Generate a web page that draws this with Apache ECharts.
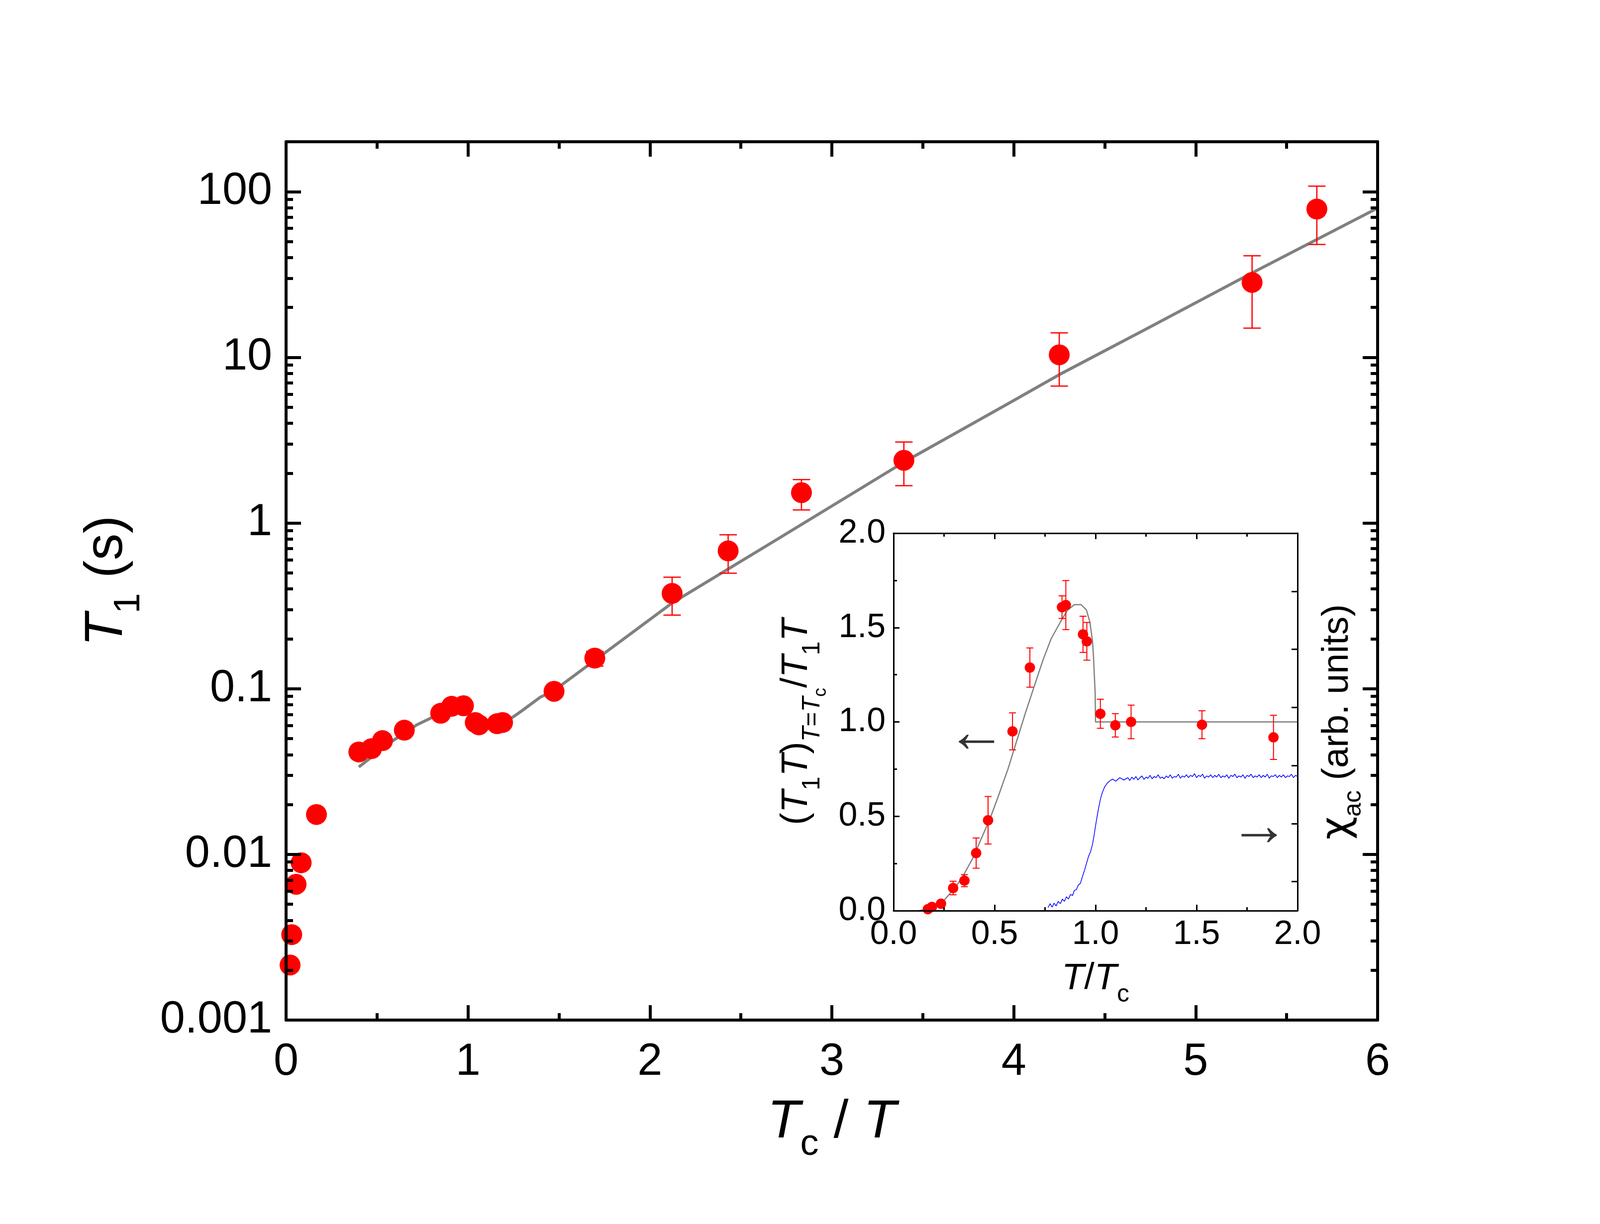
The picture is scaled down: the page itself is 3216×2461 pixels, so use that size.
<!DOCTYPE html>
<html>
<head>
<meta charset="utf-8">
<script src="https://cdn.jsdelivr.net/npm/echarts@6/dist/echarts.min.js"></script>
<style>
  html, body { margin: 0; padding: 0; background: #fff; }
  #chart { width: 3216px; height: 2461px; }
</style>
</head>
<body>
<div id="chart"></div>
<script>
// main panel: T1 vs Tc/T
const t1X = [0.022, 0.031, 0.055, 0.083, 0.167, 0.40, 0.47, 0.53, 0.65, 0.85, 0.91, 0.975, 1.04, 1.06, 1.16, 1.19, 1.473, 1.697, 2.122, 2.430, 2.833, 3.396, 4.250, 5.31, 5.666];
const t1Y = [0.00215, 0.00328, 0.0066, 0.0089, 0.0174, 0.0415, 0.0435, 0.0486, 0.0562, 0.0711, 0.0783, 0.0789, 0.0625, 0.0605, 0.0615, 0.0625, 0.0964, 0.153, 0.376, 0.679, 1.525, 2.39, 10.35, 28.3, 78.5];

const errX = [1.697, 2.122, 2.430, 2.833, 3.396, 4.250, 5.31, 5.666];
const errLo = [0.137, 0.278, 0.498, 1.20, 1.68, 6.71, 15.0, 48.0];
const errHi = [0.168, 0.471, 0.849, 1.83, 3.08, 14.06, 41.0, 108];

const fitX = [0.40, 0.47, 0.58, 0.716, 0.872, 0.995, 1.0, 1.009, 1.025, 1.067, 1.124, 1.19, 1.292, 1.397, 1.473, 1.854, 2.122, 2.691, 3.396, 3.947, 4.250, 4.717, 5.30, 6.0];
const fitY = [0.0337, 0.0387, 0.048, 0.0603, 0.073, 0.085, 0.0773, 0.066, 0.059, 0.0566, 0.0578, 0.061, 0.073, 0.0888, 0.0975, 0.199, 0.329, 0.787, 2.33, 5.09, 7.86, 14.6, 31.9, 79.6];

const logMajor = [0.001, 0.01, 0.1, 1, 10, 100];

// inset: normalized (T1 T) vs T/Tc
const inX = [0.17, 0.19, 0.235, 0.295, 0.351, 0.409, 0.468, 0.589, 0.675, 0.834, 0.853, 0.938, 0.957, 1.024, 1.098, 1.176, 1.527, 1.881];
const inY = [0.008, 0.02, 0.037, 0.120, 0.159, 0.305, 0.479, 0.950, 1.288, 1.608, 1.619, 1.464, 1.427, 1.043, 0.982, 1.0, 0.985, 0.918];
const inErr = [0.005, 0.01, 0.015, 0.036, 0.032, 0.08, 0.126, 0.098, 0.104, 0.06, 0.13, 0.096, 0.10, 0.077, 0.062, 0.089, 0.074, 0.117];

const inFitX = [0.126, 0.187, 0.25, 0.307, 0.35, 0.394, 0.48, 0.52, 0.567, 0.61, 0.653, 0.70, 0.739, 0.78, 0.826, 0.86, 0.895, 0.929, 0.955, 0.972, 0.985, 0.990, 0.994, 0.998, 1.0, 2.0];
const inFitY = [0, 0.013, 0.055, 0.124, 0.195, 0.281, 0.494, 0.61, 0.752, 0.90, 1.048, 1.20, 1.325, 1.44, 1.529, 1.59, 1.621, 1.621, 1.593, 1.529, 1.43, 1.344, 1.25, 1.159, 1.0, 1.0];

// chi_ac (arb. units, right axis)
const chiX = [0.765, 0.775, 0.785, 0.795, 0.805, 0.815, 0.826, 0.836, 0.846, 0.856, 0.866, 0.876, 0.886, 0.895, 0.905, 0.915, 0.925, 0.935, 0.946, 0.955, 0.965, 0.975, 0.985, 0.993, 1.000, 1.008, 1.016, 1.025, 1.033, 1.045, 1.059, 1.072, 1.085, 1.10, 1.12, 1.14,
  1.16, 1.17, 1.18, 1.19, 1.20, 1.21, 1.22, 1.23, 1.24, 1.25, 1.26, 1.27, 1.28, 1.29, 1.30, 1.31, 1.32, 1.33, 1.34, 1.35, 1.36, 1.37, 1.38, 1.39,
  1.40, 1.41, 1.42, 1.43, 1.44, 1.45, 1.46, 1.47, 1.48, 1.49, 1.50, 1.51, 1.52, 1.53, 1.54, 1.55, 1.56, 1.57, 1.58, 1.59,
  1.60, 1.61, 1.62, 1.63, 1.64, 1.65, 1.66, 1.67, 1.68, 1.69, 1.70, 1.71, 1.72, 1.73, 1.74, 1.75, 1.76, 1.77, 1.78, 1.79,
  1.80, 1.81, 1.82, 1.83, 1.84, 1.85, 1.86, 1.87, 1.88, 1.89, 1.90, 1.91, 1.92, 1.93, 1.94, 1.95, 1.96, 1.97, 1.98, 1.99, 2.00];
const chiY = [-0.445, -0.38, -0.44, -0.37, -0.42, -0.34, -0.38, -0.30, -0.34, -0.26, -0.30, -0.22, -0.24, -0.15, -0.14, -0.06, -0.03, 0.085, 0.20, 0.31, 0.43, 0.51, 0.64, 0.80, 0.96, 1.125, 1.28, 1.43, 1.525, 1.63, 1.70, 1.74, 1.765, 1.73, 1.79, 1.75,
  1.79, 1.74, 1.80, 1.76, 1.81, 1.75, 1.79, 1.82, 1.76, 1.80, 1.78, 1.83, 1.77, 1.81, 1.79, 1.84, 1.78, 1.80, 1.77, 1.82, 1.79, 1.84, 1.78, 1.81,
  1.80, 1.85, 1.78, 1.82, 1.80, 1.84, 1.79, 1.83, 1.81, 1.86, 1.79, 1.83, 1.81, 1.85, 1.78, 1.82, 1.80, 1.84, 1.79, 1.83,
  1.80, 1.85, 1.79, 1.82, 1.80, 1.84, 1.78, 1.83, 1.81, 1.85, 1.79, 1.82, 1.80, 1.84, 1.78, 1.83, 1.81, 1.85, 1.79, 1.82,
  1.80, 1.84, 1.79, 1.83, 1.80, 1.85, 1.78, 1.82, 1.81, 1.84, 1.79, 1.83, 1.80, 1.84, 1.79, 1.82, 1.81, 1.85, 1.79, 1.83, 1.81];

const arrowText = ['←', '→'];
const arrowX = [0.41, 1.81];
const arrowY = [0.93, 0.435];

const FONT = "'Liberation Sans', Arial, sans-serif";

// minor log ticks 2..9 in every decade
const logMinor = [];
logMajor.forEach(d => { for (let k = 2; k <= 9; k++) { if (d * k < 200) logMinor.push(+(d * k).toPrecision(2)); } });

const zip = (a, b) => a.map((v, i) => [v, b[i]]);

function errRender(cap, width) {
  return function (params, api) {
    const x = api.value(0);
    const top = api.coord([x, api.value(2)]);
    const bot = api.coord([x, api.value(1)]);
    const style = { stroke: '#ff0000', lineWidth: width };
    return {
      type: 'group',
      children: [
        { type: 'line', shape: { x1: top[0], y1: top[1], x2: bot[0], y2: bot[1] }, style },
        { type: 'line', shape: { x1: top[0] - cap / 2, y1: top[1], x2: top[0] + cap / 2, y2: top[1] }, style },
        { type: 'line', shape: { x1: bot[0] - cap / 2, y1: bot[1], x2: bot[0] + cap / 2, y2: bot[1] }, style }
      ]
    };
  };
}

const mainLine = { onZero: false, lineStyle: { color: '#000', width: 6 } };
const mainTick = { inside: true, length: 30, lineStyle: { color: '#000', width: 6 } };
const mainMinor = { show: true, splitNumber: 2, length: 14, lineStyle: { color: '#000', width: 6 } };
const hiddenLine = { show: false, onZero: false };
const inLine = { onZero: false, lineStyle: { color: '#000', width: 3 } };
const inTick = { inside: true, length: 12, lineStyle: { color: '#000', width: 3 } };
const inMinor = { show: true, splitNumber: 2, length: 7, lineStyle: { color: '#000', width: 3 } };

const bigRich = {
  it: { fontSize: 108, lineHeight: 108, fontStyle: 'italic', fontFamily: FONT, color: '#000', verticalAlign: 'bottom', padding: [0, 0, 28, 0] },
  n: { fontSize: 108, lineHeight: 108, fontFamily: FONT, color: '#000', verticalAlign: 'bottom', padding: [0, 0, 28, 0] },
  sub: { fontSize: 74, lineHeight: 74, fontFamily: FONT, color: '#000', verticalAlign: 'bottom' }
};
const smallRich = {
  it: { fontSize: 74, lineHeight: 74, fontStyle: 'italic', fontFamily: FONT, color: '#000', verticalAlign: 'bottom', padding: [0, 0, 30, 0] },
  n: { fontSize: 74, lineHeight: 74, fontFamily: FONT, color: '#000', verticalAlign: 'bottom', padding: [0, 0, 30, 0] },
  sub: { fontSize: 50, lineHeight: 50, fontFamily: FONT, color: '#000', verticalAlign: 'bottom', padding: [0, 0, 10, 0] },
  subi: { fontSize: 50, lineHeight: 50, fontStyle: 'italic', fontFamily: FONT, color: '#000', verticalAlign: 'bottom', padding: [0, 0, 10, 0] },
  subsub: { fontSize: 36, lineHeight: 36, fontFamily: FONT, color: '#000', verticalAlign: 'bottom' },
  chi: { fontSize: 80, lineHeight: 80, fontFamily: "'DejaVu Sans', sans-serif", color: '#000', verticalAlign: 'bottom', padding: [0, 0, 27, 0] }
};

const logFmt = v => (v >= 1 ? String(Math.round(v)) : String(parseFloat(Number(v).toPrecision(1))));

const chart = echarts.init(document.getElementById('chart'), null, { renderer: 'canvas' });
chart.setOption({
  animation: false,
  backgroundColor: '#fff',
  textStyle: { fontFamily: FONT, color: '#000' },
  grid: [
    { left: 575, top: 285, width: 2194, height: 1766 },
    { left: 1796, top: 1072, width: 812, height: 759 }
  ],
  xAxis: [
    {
      gridIndex: 0, type: 'value', position: 'bottom', min: 0, max: 6, interval: 1, z: 5,
      axisLine: mainLine, axisTick: mainTick, minorTick: mainMinor, splitLine: { show: false },
      axisLabel: { fontSize: 90, color: '#000', margin: 40, fontFamily: FONT },
      name: '{it|T}{sub|c}{n| / }{it|T}', nameLocation: 'middle', nameGap: 180,
      nameTextStyle: { rich: bigRich }
    },
    {
      gridIndex: 0, type: 'value', position: 'top', min: 0, max: 6, interval: 1, z: 5,
      axisLine: mainLine, axisTick: mainTick, minorTick: mainMinor, splitLine: { show: false },
      axisLabel: { show: false }
    },
    {
      gridIndex: 1, type: 'value', position: 'bottom', min: 0, max: 2, interval: 0.5, z: 5,
      axisLine: inLine, axisTick: inTick, minorTick: inMinor, splitLine: { show: false },
      axisLabel: { fontSize: 68, color: '#000', margin: 14, fontFamily: FONT, formatter: v => v.toFixed(1) },
      name: '{it|T}{n|/}{it|T}{sub|c}', nameLocation: 'middle', nameGap: 130,
      nameTextStyle: { rich: smallRich }
    },
    {
      gridIndex: 1, type: 'value', position: 'top', min: 0, max: 2, interval: 0.5, z: 5,
      axisLine: inLine, axisTick: inTick, minorTick: inMinor, splitLine: { show: false },
      axisLabel: { show: false }
    }
  ],
  yAxis: [
    {
      gridIndex: 0, type: 'log', position: 'left', min: 0.001, max: 200, z: 5,
      axisLine: mainLine, axisTick: Object.assign({ customValues: logMajor }, mainTick),
      splitLine: { show: false },
      axisLabel: { customValues: logMajor, formatter: logFmt, fontSize: 90, color: '#000', margin: 28, fontFamily: FONT },
      name: '{it|T}{sub|1}{n| (s)}', nameLocation: 'middle', nameGap: 278, nameRotate: 90,
      nameTextStyle: { rich: bigRich }
    },
    {
      gridIndex: 0, type: 'log', position: 'left', min: 0.001, max: 200, z: 5,
      axisLine: hiddenLine, splitLine: { show: false }, axisLabel: { show: false },
      axisTick: { customValues: logMinor, inside: true, length: 14, lineStyle: { color: '#000', width: 6 } }
    },
    {
      gridIndex: 0, type: 'log', position: 'right', min: 0.001, max: 200, z: 5,
      axisLine: mainLine, axisTick: Object.assign({ customValues: logMajor }, mainTick),
      splitLine: { show: false }, axisLabel: { show: false }
    },
    {
      gridIndex: 0, type: 'log', position: 'right', min: 0.001, max: 200, z: 5,
      axisLine: hiddenLine, splitLine: { show: false }, axisLabel: { show: false },
      axisTick: { customValues: logMinor, inside: true, length: 14, lineStyle: { color: '#000', width: 6 } }
    },
    {
      gridIndex: 1, type: 'value', position: 'left', min: 0, max: 2, interval: 0.5, z: 5,
      axisLine: inLine, axisTick: inTick, minorTick: inMinor, splitLine: { show: false },
      axisLabel: { fontSize: 68, color: '#000', margin: 16, fontFamily: FONT, formatter: v => v.toFixed(1) },
      name: '{n|(}{it|T}{sub|1}{it|T}{n|)}{subi|T}{sub|=}{subi|T}{subsub|c}{n|/}{it|T}{sub|1}{it|T}',
      nameLocation: 'middle', nameGap: 128, nameRotate: 90,
      nameTextStyle: { rich: smallRich }
    },
    {
      gridIndex: 1, type: 'value', position: 'right', min: -0.5, max: 6, z: 5,
      axisLine: inLine, splitLine: { show: false }, axisLabel: { show: false },
      axisTick: { customValues: [0, 1, 2, 3, 4, 5, 6], inside: true, length: 12, lineStyle: { color: '#000', width: 3 } },
      name: '{chi|χ}{sub|ac}{n| (arb. units)}', nameLocation: 'middle', nameGap: 68, nameRotate: 90,
      nameTextStyle: { rich: smallRich }
    }
  ],
  series: [
    {
      type: 'line', xAxisIndex: 0, yAxisIndex: 0, data: zip(fitX, fitY), symbol: 'none',
      lineStyle: { color: '#808080', width: 6 }, z: 2
    },
    {
      type: 'custom', xAxisIndex: 0, yAxisIndex: 0, renderItem: errRender(35, 2.5),
      data: errX.map((x, i) => [x, errLo[i], errHi[i]]), encode: { x: 0, y: [1, 2] }, z: 3
    },
    {
      type: 'scatter', xAxisIndex: 0, yAxisIndex: 0, data: zip(t1X, t1Y), symbol: 'circle', symbolSize: 42,
      itemStyle: { color: '#ff0000', opacity: 1 }, z: 4
    },
    {
      type: 'line', xAxisIndex: 2, yAxisIndex: 5, data: zip(chiX, chiY), symbol: 'none',
      lineStyle: { color: '#0000ff', width: 1.5 }, z: 2
    },
    {
      type: 'line', xAxisIndex: 2, yAxisIndex: 4, data: zip(inFitX, inFitY), symbol: 'none',
      lineStyle: { color: '#808080', width: 2.5 }, z: 2
    },
    {
      type: 'custom', xAxisIndex: 2, yAxisIndex: 4, renderItem: errRender(14, 2),
      data: inX.map((x, i) => [x, inY[i] - inErr[i], inY[i] + inErr[i]]), encode: { x: 0, y: [1, 2] }, z: 3
    },
    {
      type: 'scatter', xAxisIndex: 2, yAxisIndex: 4, data: zip(inX, inY), symbol: 'circle', symbolSize: 21,
      itemStyle: { color: '#ff0000', opacity: 1 }, z: 4
    },
    {
      type: 'scatter', xAxisIndex: 2, yAxisIndex: 4, symbolSize: 0,
      data: arrowText.map((t, i) => ({ name: t, value: [arrowX[i], arrowY[i]] })),
      label: { show: true, position: 'inside', formatter: p => p.name, fontSize: 120, color: '#000', fontFamily: FONT },
      z: 4
    }
  ]
});
</script>
</body>
</html>
